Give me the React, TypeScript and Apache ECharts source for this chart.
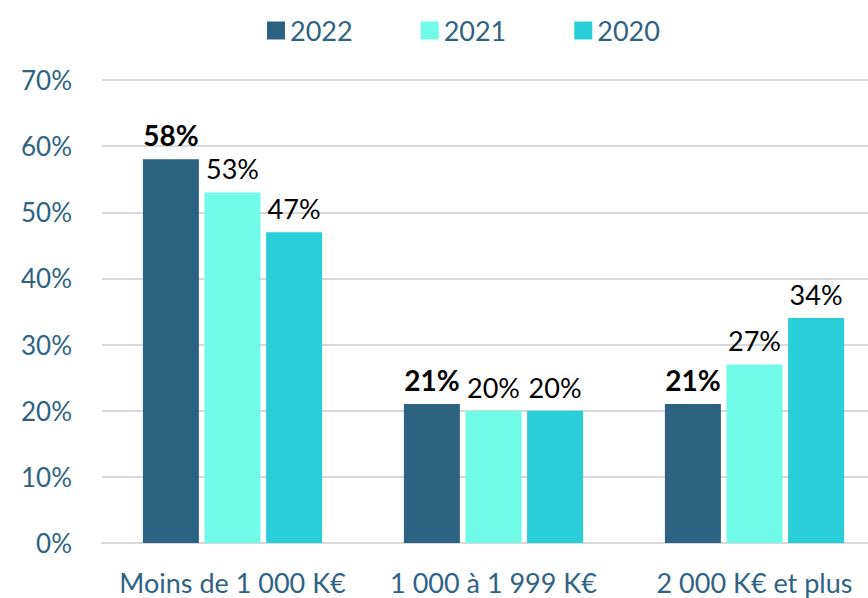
import React, { useEffect, useRef } from "react";
import * as echarts from "echarts";

const categories = ["Moins de 1 000 K€", "1 000 à 1 999 K€", "2 000 K€ et plus"];
const seriesNames = ["2022", "2021", "2020"];
const values2022 = [58, 21, 21];
const values2021 = [53, 20, 27];
const values2020 = [47, 20, 34];
const yTicks = [0, 10, 20, 30, 40, 50, 60, 70];

const colors = ["#2C6282", "#70FBE8", "#29CED8"];
const textBlue = "#2E6384";
const FONT = "Lato, 'Open Sans', sans-serif";

export default function App() {
  const ref = useRef<HTMLDivElement>(null);
  useEffect(() => {
    if (!ref.current) return;
    const chart = echarts.init(ref.current, undefined, { renderer: "svg" });
    const data = [values2022, values2021, values2020];
    chart.setOption({
      animation: false,
      textStyle: { fontFamily: FONT },
      legend: {
        data: seriesNames,
        left: 262,
        top: 12,
        itemWidth: 18,
        itemHeight: 18,
        itemGap: 68,
        icon: "rect",
        textStyle: { color: textBlue, fontSize: 27, fontFamily: FONT },
      },
      grid: { left: 102, right: 0, top: 80, bottom: 55, containLabel: false },
      xAxis: {
        type: "category",
        data: categories,
        axisTick: { show: false },
        axisLine: { lineStyle: { color: "#D9D9D9", width: 2 } },
        axisLabel: { color: textBlue, fontSize: 27, fontFamily: FONT, margin: 26, interval: 0 },
      },
      yAxis: {
        type: "value",
        min: yTicks[0],
        max: yTicks[yTicks.length - 1],
        interval: 10,
        axisLine: { show: false },
        axisTick: { show: false },
        splitLine: { lineStyle: { color: "#D9D9D9", width: 2 } },
        axisLabel: {
          color: textBlue,
          fontSize: 26,
          fontFamily: FONT,
          margin: 30,
          formatter: (v: number) => `${v}%`,
        },
      },
      series: seriesNames.map((name, i) => ({
        name,
        type: "bar",
        data: data[i],
        barWidth: 56,
        barGap: "10%",
        itemStyle: { color: colors[i] },
        label: {
          show: true,
          position: "top",
          distance: 10,
          formatter: "{c}%",
          color: "#000",
          fontSize: i === 0 ? 28 : 27,
          fontWeight: i === 0 ? "bold" : "normal",
          fontFamily: FONT,
        },
      })),
    });
    return () => chart.dispose();
  }, []);
  return (
    <div style={{ position: "absolute", left: 0, top: 0, width: 868, height: 598, overflow: "hidden" }}>
      <div ref={ref} style={{ position: "absolute", left: 0, top: 0, width: 885, height: 598 }} />
    </div>
  );
}
